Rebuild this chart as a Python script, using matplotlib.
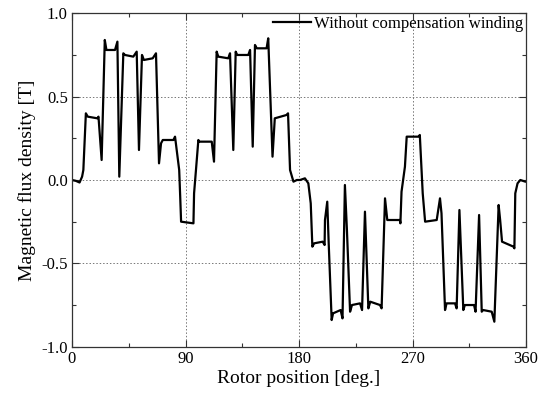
import matplotlib
matplotlib.use("Agg")
import matplotlib.pyplot as plt
from matplotlib.ticker import MultipleLocator, FormatStrFormatter

plt.rcParams['font.family'] = ['Liberation Serif', 'DejaVu Serif']
plt.rcParams['axes.unicode_minus'] = False

rotor_deg = [0, 3, 6, 8, 9, 11, 12.5, 20.1, 21, 23.5, 26, 27.3, 34.1, 36, 37.5,
             40.7, 42, 48.6, 51.3, 53.1, 55.5, 57, 64, 66.6, 69, 70.6, 72, 80.4,
             81.7, 85, 85.8, 86.5, 96.3, 96.8, 98.3, 100.2, 101, 110.8, 112.6,
             114.7, 116, 123.9, 125.3, 127.9, 129.8, 131, 139.8, 141.2, 143.3,
             145.1, 146.5, 154.3, 155.6, 159, 160.8, 170.1, 171.3, 172.9, 175.6,
             178.3, 180.8, 184.7, 187.4, 189.3, 190.6, 192, 198.8, 200.3, 200.6,
             202.4, 203.5, 205.9, 207, 213, 214.5, 216.4, 218, 220.5, 222, 228.4,
             230, 232.3, 235, 236.5, 244.2, 245.5, 248.2, 250, 260, 260.4, 261.3,
             264, 265.4, 274.6, 275.8, 278.1, 280, 289.2, 291.8, 293, 295.8, 297,
             303.7, 305, 307.2, 310.3, 311.5, 318.8, 320, 322.8, 324.9, 326, 332.8,
             334.9, 338.3, 339.5, 341, 350.1, 350.8, 351.5, 353.3, 355.5, 359.5, 360]
flux_density = [0.00, -0.005, -0.015, 0.02, 0.06, 0.40, 0.38, 0.37, 0.38, 0.12, 0.84,
                0.78, 0.78, 0.83, 0.02, 0.76, 0.75, 0.74, 0.77, 0.18, 0.75, 0.72,
                0.73, 0.76, 0.10, 0.22, 0.24, 0.24, 0.26, 0.06, -0.10, -0.25, -0.26,
                -0.08, 0.06, 0.24, 0.23, 0.23, 0.11, 0.77, 0.74, 0.73, 0.76, 0.18,
                0.77, 0.75, 0.75, 0.78, 0.20, 0.81, 0.79, 0.79, 0.85, 0.14, 0.37,
                0.39, 0.40, 0.06, -0.01, 0.00, 0.00, 0.01, -0.02, -0.14, -0.40,
                -0.38, -0.37, -0.39, -0.24, -0.13, -0.37, -0.84, -0.80, -0.78,
                -0.83, -0.03, -0.30, -0.79, -0.75, -0.74, -0.78, -0.19, -0.77,
                -0.73, -0.75, -0.77, -0.11, -0.24, -0.24, -0.26, -0.07, 0.08, 0.26,
                0.26, 0.27, -0.08, -0.25, -0.24, -0.11, -0.20, -0.78, -0.74, -0.74,
                -0.77, -0.18, -0.78, -0.75, -0.75, -0.79, -0.21, -0.79, -0.78,
                -0.79, -0.85, -0.15, -0.24, -0.37, -0.40, -0.41, -0.08, -0.02,
                0.00, -0.01, -0.01]

series_label = "Without compensation winding"
x_ticks = [0, 90, 180, 270, 360]
y_ticks = [-1.0, -0.5, 0.0, 0.5, 1.0]

fig = plt.figure(figsize=(5.46, 4.05), dpi=100)
ax = fig.add_axes([72/546, 1 - 346.7/405, (526 - 72)/546, (346.7 - 13.3)/405])

ax.plot(rotor_deg, flux_density, color='black', lw=1.6, label=series_label)

ax.set_xlim(0, 360)
ax.set_ylim(-1.0, 1.0)
ax.set_xticks(x_ticks)
ax.set_yticks(y_ticks)
ax.xaxis.set_minor_locator(MultipleLocator(45))
ax.yaxis.set_minor_locator(MultipleLocator(0.25))
ax.yaxis.set_major_formatter(FormatStrFormatter('%.1f'))
ax.tick_params(which='both', direction='in', top=True, right=True, labelsize=12, color='#333333')
ax.tick_params(which='major', length=5, width=0.8, pad=3)
ax.tick_params(which='minor', length=3, width=0.8)
ax.grid(True, which='major', linestyle=(0, (1.5, 2)), color='#777777', lw=0.7)
for s in ax.spines.values():
    s.set_linewidth(0.9)
    s.set_color('#333333')

ax.set_xlabel("Rotor position [deg.]", fontsize=14, labelpad=2)
ax.set_ylabel("Magnetic flux density [T]", fontsize=14, labelpad=4)

leg = ax.legend(loc='upper right', frameon=False, fontsize=12, handlelength=2.3,
                handletextpad=0.2, borderaxespad=0.0, borderpad=0.15)

fig.savefig("out.png", dpi=100)
